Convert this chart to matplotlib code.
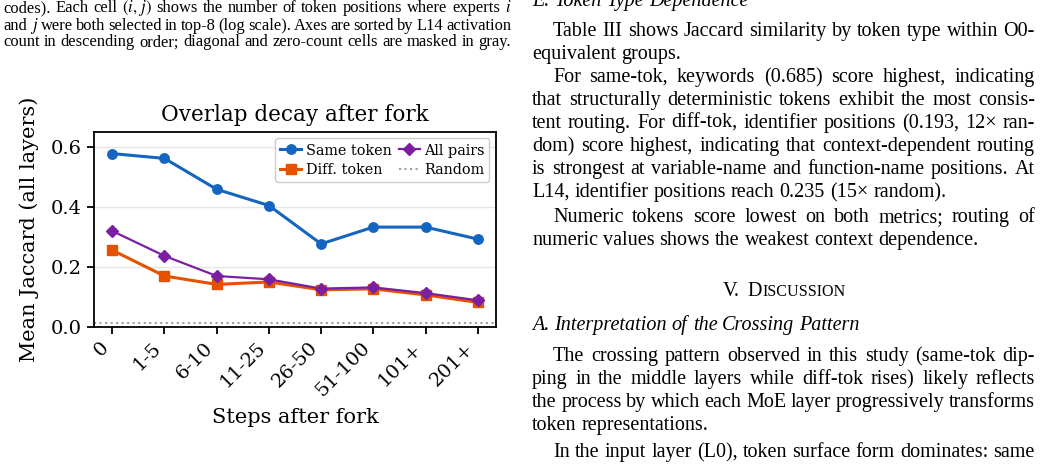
import matplotlib
matplotlib.use('Agg')
import matplotlib.pyplot as plt
from matplotlib.transforms import IdentityTransform
import numpy as np

W, H = 1043, 468

# ---------------- data ----------------
categories = ['0', '1-5', '6-10', '11-25', '26-50', '51-100', '101+', '201+']
same_token = [0.578, 0.562, 0.459, 0.405, 0.277, 0.333, 0.333, 0.293]
diff_token = [0.256, 0.170, 0.142, 0.150, 0.124, 0.127, 0.107, 0.082]
all_pairs = [0.320, 0.237, 0.170, 0.159, 0.128, 0.132, 0.113, 0.089]
random_baseline = 0.015
yticks = [0.0, 0.2, 0.4, 0.6]

# ---------------- figure ----------------
plt.rcParams['mathtext.fontset'] = 'stix'
fig = plt.figure(figsize=(W / 100, H / 100), dpi=100)
fig.patch.set_facecolor('white')

ax = fig.add_axes([94 / W, 1 - 327 / H, (496 - 94) / W, (327 - 132) / H])
serif = 'DejaVu Serif'
x = np.arange(len(categories))
ax.plot(x, same_token, '-o', color='#1565C0', lw=2.2, ms=6.8, label='Same token', zorder=3)
ax.plot(x, diff_token, '-s', color='#E65100', lw=2.2, ms=6.5, label='Diff. token', zorder=3)
ax.plot(x, all_pairs, '-D', color='#7B1FA2', lw=1.6, ms=5.8, label='All pairs', zorder=4)
ax.axhline(random_baseline, color='#9E9E9E', ls=':', lw=1.5, label='Random', zorder=2)

ax.set_ylim(0, 0.65)
ax.set_xlim(-0.35, len(categories) - 1 + 0.35)
ax.set_yticks(yticks)
ax.set_yticklabels([f'{v:.1f}' for v in yticks], family=serif, fontsize=14)
ax.set_xticks(x)
ax.set_xticklabels(categories, rotation=45, ha='right', family=serif, fontsize=14)
ax.yaxis.grid(True, color='#E6E6E6', lw=1.0)
ax.set_axisbelow(True)
for s in ax.spines.values():
    s.set_color('black')
    s.set_linewidth(1.3)
ax.tick_params(axis='both', length=5, width=1.3, color='black')
ax.set_title('Overlap decay after fork', family=serif, fontsize=15.5, pad=8)
ax.set_xlabel('Steps after fork', family=serif, fontsize=15, labelpad=6)
ax.set_ylabel('Mean Jaccard (all layers)', family=serif, fontsize=15, labelpad=9)
leg = ax.legend(loc='upper right', ncol=2, prop={'family': serif, 'size': 10.4},
                handlelength=1.45, handletextpad=0.3, columnspacing=0.5,
                borderpad=0.35, labelspacing=0.4, framealpha=1.0,
                edgecolor='#CCCCCC', fancybox=True, borderaxespad=0.45)

# ---------------- surrounding paper text ----------------
renderer = fig.canvas.get_renderer()
TIMES = 'Liberation Serif'


def make(s, size, style='normal', x=0, y=0, ha='left'):
    return fig.text(x, y, s, fontsize=size, family=TIMES, style=style,
                    transform=IdentityTransform(), ha=ha, va='baseline', color='black')


def width(t):
    return t.get_window_extent(renderer).width


def natural_width(s, size, style='normal'):
    t = make(s, size, style)
    w = width(t)
    t.remove()
    return w


def space_width(size, style='normal'):
    return natural_width('a a', size, style) - natural_width('aa', size, style)


def line(words, x0, x1, yimg, size, justify=True, style='normal'):
    y = H - yimg
    ts = [make(w, size, style) for w in words]
    ws = [width(t) for t in ts]
    if justify and len(ts) > 1:
        gap = (x1 - x0 - sum(ws)) / (len(ts) - 1)
    else:
        gap = space_width(size, style)
    xx = x0
    for t, w in zip(ts, ws):
        t.set_position((xx, y))
        xx += w + gap


# caption (left column): size fitted so that the last line spans its measured width
cap_last = 'count in descending order; diagonal and zero-count cells are masked in gray.'
cap = 10.0 * 507 / natural_width(cap_last, 10.0)
cx0, cx1 = 3, 511
line('codes). Each cell $(i,\\,j)$ shows the number of token positions where experts $i$'.split(),
     cx0, cx1, 12.5, cap)
line('and $j$ were both selected in top-8 (log scale). Axes are sorted by L14 activation'.split(),
     cx0, cx1, 29.5, cap)
line(cap_last.split(), cx0, cx1, 46.5, cap)

# right column
body = 14.5
rx0, rx1, ind = 532, 1035, 553
lines = [
    ('Table III shows Jaccard similarity by token type within O0-', ind, True, 36),
    ('equivalent groups.', rx0, False, 59),
    ('For same-tok, keywords (0.685) score highest, indicating', ind, True, 82),
    ('that structurally deterministic tokens exhibit the most consis-', rx0, True, 105),
    ('tent routing. For diff-tok, identifier positions (0.193, 12\u00d7 ran-', rx0, True, 128),
    ('dom) score highest, indicating that context-dependent routing', rx0, True, 151),
    ('is strongest at variable-name and function-name positions. At', rx0, True, 174),
    ('L14, identifier positions reach 0.235 (15\u00d7 random).', rx0, False, 197),
    ('Numeric tokens score lowest on both metrics; routing of', ind, True, 222),
    ('numeric values shows the weakest context dependence.', rx0, False, 245),
    ('The crossing pattern observed in this study (same-tok dip-', ind, True, 361),
    ('ping in the middle layers while diff-tok rises) likely reflects', rx0, True, 384),
    ('the process by which each MoE layer progressively transforms', rx0, True, 407),
    ('token representations.', rx0, False, 430),
    ('In the input layer (L0), token surface form dominates: same', ind, True, 457),
]
for s, x0, j, y in lines:
    line(s.split(), x0, rx1, y, body, justify=j)

line('E. Token Type Dependence'.split(), rx0, rx1, 6, body, justify=False, style='italic')
line('A. Interpretation of the Crossing Pattern'.split(), rx0, rx1, 330, body,
     justify=False, style='italic')

# small caps heading
p1 = make('V.', body)
p2 = make('D', body)
p3 = make('ISCUSSION', body * 0.8)
sw = space_width(body) * 1.6
tot = width(p1) + sw + width(p2) + width(p3)
xs = 784 - tot / 2
yb = H - 296
p1.set_position((xs, yb))
p2.set_position((xs + width(p1) + sw, yb))
p3.set_position((xs + width(p1) + sw + width(p2), yb))

fig.savefig('out.png', dpi=100, facecolor='white')
